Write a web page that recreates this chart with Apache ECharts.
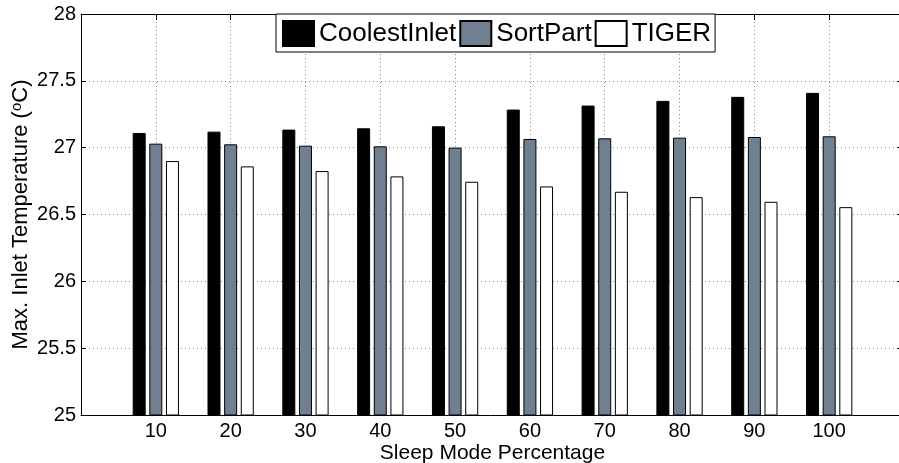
<!DOCTYPE html>
<html>
<head>
<meta charset="utf-8">
<script src="https://cdn.jsdelivr.net/npm/echarts@6/dist/echarts.min.js"></script>
<style>
html,body{margin:0;padding:0;background:#fff;}
#chart{width:899px;height:463px;}
</style>
</head>
<body>
<div id="chart"></div>
<script>
var categories = ['10', '20', '30', '40', '50', '60', '70', '80', '90', '100'];
var coolestInlet = [27.11, 27.12, 27.135, 27.145, 27.16, 27.285, 27.315, 27.35, 27.38, 27.41];
var sortPart = [27.03, 27.025, 27.015, 27.01, 27.0, 27.065, 27.07, 27.075, 27.08, 27.085];
var tiger = [26.9, 26.86, 26.825, 26.785, 26.745, 26.71, 26.67, 26.63, 26.595, 26.555];
var yTicks = { min: 25, max: 28, interval: 0.5 };

var FONT = 'Liberation Sans, Arial, Helvetica, sans-serif';
// pad with empty slots at 0 and 110 so the axis spans 0..110
var cats = [''].concat(categories).concat(['']);
function pad(a) { return [null].concat(a).concat([null]); }

var chart = echarts.init(document.getElementById('chart'), null, { renderer: 'canvas' });
var axisLine = { show: true, lineStyle: { color: '#000', width: 1 } };
chart.setOption({
  animation: false,
  backgroundColor: '#fff',
  textStyle: { fontFamily: FONT },
  grid: { left: 81, right: -5, top: 14, bottom: 48, containLabel: false, outerBoundsMode: 'none' },
  legend: {
    left: 276, top: 14,
    padding: [6, 4, 5, 6],
    itemGap: 3, itemTextGap: 2,
    itemWidth: 31, itemHeight: 25,
    backgroundColor: '#fff',
    borderColor: '#000', borderWidth: 1,
    textStyle: { fontFamily: FONT, fontSize: 26, color: '#000' },
    data: [
      { name: 'CoolestInlet', icon: 'rect' },
      { name: 'SortPart', icon: 'rect' },
      { name: 'TIGER', icon: 'rect' }
    ]
  },
  xAxis: [{
    type: 'category', data: cats, boundaryGap: false, position: 'bottom',
    axisLine: axisLine,
    axisTick: { show: true, inside: true, length: 5, interval: 0, lineStyle: { color: '#000' } },
    axisLabel: { interval: 0, margin: 6, fontSize: 20, color: '#000', fontFamily: FONT },
    splitLine: { show: true, interval: 0, lineStyle: { type: [1, 3], color: '#888', width: 1 } },
    name: 'Sleep Mode Percentage', nameLocation: 'middle', nameGap: 28, nameMoveOverlap: false,
    nameTextStyle: { fontSize: 21, color: '#000', fontFamily: FONT }
  }, {
    type: 'category', data: cats, boundaryGap: false, position: 'top',
    axisLine: axisLine,
    axisTick: { show: true, inside: true, length: 6, interval: 0, lineStyle: { color: '#000' } },
    axisLabel: { show: false }, splitLine: { show: false }
  }],
  yAxis: [{
    type: 'value', min: yTicks.min, max: yTicks.max, interval: yTicks.interval,
    axisLine: axisLine,
    axisTick: { show: true, inside: true, length: 5, lineStyle: { color: '#000' } },
    axisLabel: { margin: 5, fontSize: 20, color: '#000', fontFamily: FONT },
    splitLine: { show: true, lineStyle: { type: [1, 3], color: '#888', width: 1 } },
    name: 'Max. Inlet Temperature ({sup|o}C)', nameLocation: 'middle', nameGap: 49, nameMoveOverlap: false,
    nameTextStyle: {
      fontSize: 22, color: '#000', fontFamily: FONT,
      rich: { sup: { fontSize: 15, verticalAlign: 'top', padding: [0, 0, 8, 0], color: '#000', fontFamily: FONT } }
    }
  }, {
    type: 'value', min: yTicks.min, max: yTicks.max, interval: yTicks.interval, position: 'right',
    axisLine: axisLine,
    axisTick: { show: true, inside: true, length: 7, lineStyle: { color: '#000' } },
    axisLabel: { show: false }, splitLine: { show: false }
  }],
  series: [
    { name: 'CoolestInlet', type: 'bar', data: pad(coolestInlet), barWidth: 13, barGap: '28%',
      itemStyle: { color: '#000', borderColor: '#000', borderWidth: 1 } },
    { name: 'SortPart', type: 'bar', data: pad(sortPart), barWidth: 13, barGap: '28%',
      itemStyle: { color: '#708090', borderColor: '#000', borderWidth: 1 } },
    { name: 'TIGER', type: 'bar', data: pad(tiger), barWidth: 13, barGap: '28%',
      itemStyle: { color: '#fff', borderColor: '#000', borderWidth: 1 } }
  ]
});
</script>
</body>
</html>
